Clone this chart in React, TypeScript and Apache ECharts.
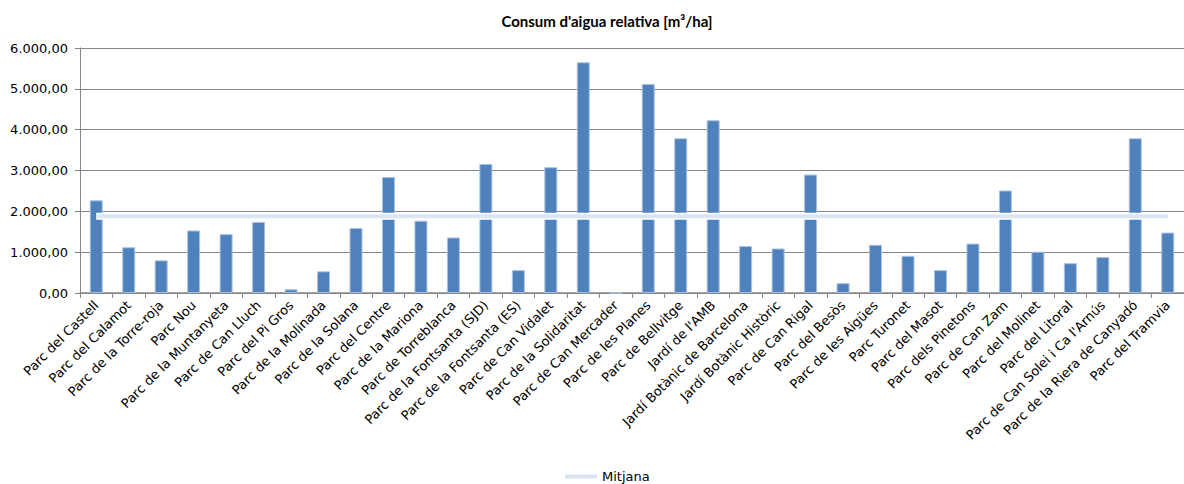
import React, { useEffect, useRef } from "react";
import * as echarts from "echarts";

// Parks, in axis order
const categories = [
  "Parc del Castell",
  "Parc del Calamot",
  "Parc de la Torre-roja",
  "Parc Nou",
  "Parc de la Muntanyeta",
  "Parc de Can Lluch",
  "Parc del Pi Gros",
  "Parc de la Molinada",
  "Parc de la Solana",
  "Parc del Centre",
  "Parc de la Mariona",
  "Parc de Torreblanca",
  "Parc de la Fontsanta (SJD)",
  "Parc de la Fontsanta (ES)",
  "Parc de Can Vidalet",
  "Parc de la Solidaritat",
  "Parc de Can Mercader",
  "Parc de les Planes",
  "Parc de Bellvitge",
  "Jardí de l'AMB",
  "Jardí Botànic de Barcelona",
  "Jardí Botànic Històric",
  "Parc de Can Rigal",
  "Parc del Besòs",
  "Parc de les Aigües",
  "Parc Turonet",
  "Parc del Masot",
  "Parc dels Pinetons",
  "Parc de Can Zam",
  "Parc del Molinet",
  "Parc del Litoral",
  "Parc de Can Solei i Ca l'Arnús",
  "Parc de la Riera de Canyadó",
  "Parc del Tramvia",
];

// Relative water consumption per park [m³/ha]
const consum = [
  2270, 1120, 800, 1530, 1440, 1740, 90, 530, 1590, 2840, 1770, 1360, 3160,
  560, 3080, 5650, 0, 5120, 3790, 4230, 1150, 1090, 2900, 240, 1180, 910, 560,
  1210, 2510, 1010, 730, 880, 3790, 1480,
];

// Average across all parks
const mitjanaValue = 1880;

// Y axis ticks
const yMin = 0;
const yMax = 6000;
const yStep = 1000;

const FONT = "DejaVu Sans";
const AXIS_GREY = "#868686";
const BAR_BLUE = "#4f81bd";
const MEAN_BLUE = "#dce6f2";

function formatCa(v: number): string {
  const [intPart, dec] = v.toFixed(2).split(".");
  const grouped = intPart.replace(/\B(?=(\d{3})+(?!\d))/g, ".");
  return grouped + "," + dec;
}

export default function App() {
  const ref = useRef<HTMLDivElement>(null);

  useEffect(() => {
    if (!ref.current) return;
    const chart = echarts.init(ref.current, null, { renderer: "svg" });
    const meanLine = categories.map(() => mitjanaValue);

    chart.setOption({
      animation: false,
      backgroundColor: "#ffffff",
      title: {
        text: "Consum d'aigua relativa [m³/ha]",
        left: 602,
        textAlign: "center",
        top: 8,
        textStyle: {
          fontFamily: "Lato",
          fontWeight: "bold",
          fontSize: 15,
          color: "#000",
        },
      },
      legend: {
        data: [{ name: "Mitjana", icon: "rect" }],
        left: 560,
        top: 465,
        itemWidth: 32,
        itemHeight: 4,
        itemGap: 5,
        textStyle: { fontFamily: FONT, fontSize: 13, color: "#000" },
      },
      grid: { left: 80, top: 48, width: 1108, height: 245, containLabel: false },
      xAxis: {
        type: "category",
        data: categories,
        boundaryGap: true,
        axisLine: { lineStyle: { color: AXIS_GREY, width: 1.5 } },
        axisTick: { show: true, length: 5, lineStyle: { color: AXIS_GREY } },
        axisLabel: {
          interval: 0,
          rotate: 45,
          margin: 10,
          fontFamily: FONT,
          fontSize: 13,
          color: "#000",
        },
        splitLine: { show: false },
      },
      yAxis: {
        type: "value",
        min: yMin,
        max: yMax,
        interval: yStep,
        axisLine: { show: true, lineStyle: { color: AXIS_GREY } },
        axisTick: { show: true, length: 5, lineStyle: { color: AXIS_GREY } },
        axisLabel: {
          margin: 12,
          fontFamily: FONT,
          fontSize: 13,
          color: "#000",
          formatter: (v: number) => formatCa(v),
        },
        splitLine: { show: true, lineStyle: { color: AXIS_GREY, width: 1 } },
      },
      series: [
        {
          name: "Consum",
          type: "bar",
          data: consum,
          barWidth: "40%",
          itemStyle: {
            color: BAR_BLUE,
            borderColor: "#a9c1df",
            borderWidth: 1,
          },
        },
        {
          name: "halo",
          type: "line",
          data: meanLine,
          symbol: "none",
          silent: true,
          lineStyle: { color: "#ffffff", width: 7 },
        },
        {
          name: "Mitjana",
          type: "line",
          data: meanLine,
          symbol: "none",
          itemStyle: { color: MEAN_BLUE },
          lineStyle: { color: MEAN_BLUE, width: 4 },
        },
      ],
    });

    return () => chart.dispose();
  }, []);

  return (
    <div
      ref={ref}
      style={{
        position: "absolute",
        left: 0,
        top: 0,
        width: 1184,
        height: 484,
        background: "#fff",
      }}
    />
  );
}
